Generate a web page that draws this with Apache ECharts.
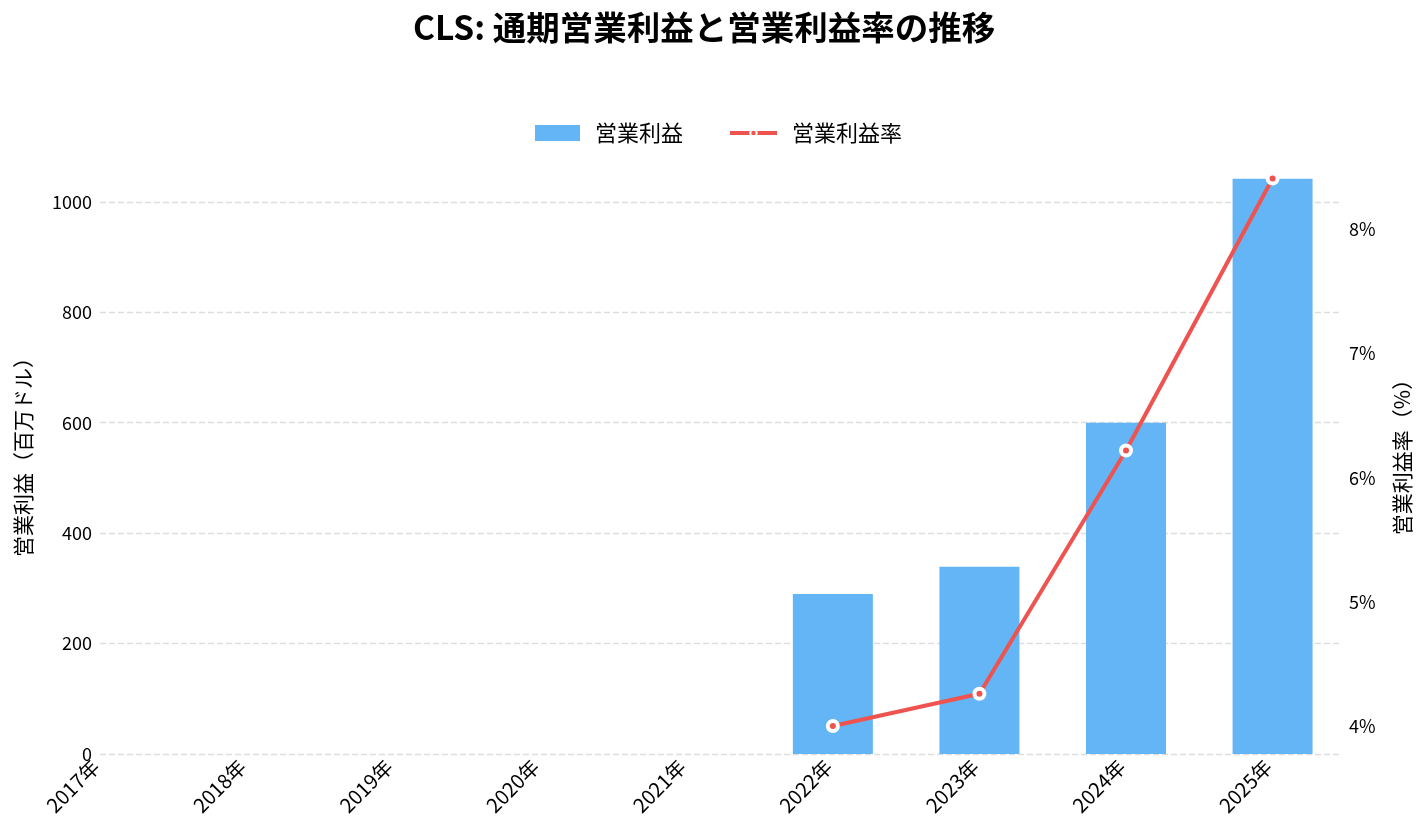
<!DOCTYPE html>
<html>
<head>
<meta charset="utf-8">
<script src="https://cdn.jsdelivr.net/npm/echarts@6/dist/echarts.min.js"></script>
<style>
  html, body { margin: 0; padding: 0; background: #fff; }
  #chart { width: 1425px; height: 838px; }
</style>
</head>
<body>
<div id="chart"></div>
<script>
// データ
var years = [2017, 2018, 2019, 2020, 2021, 2022, 2023, 2024, 2025];
var operatingProfit = [null, null, null, null, null, 290, 339, 600, 1042];   // 百万ドル
var operatingMargin = [null, null, null, null, null, 4.0, 4.26, 6.22, 8.41]; // %
var rightTicks = [4, 5, 6, 7, 8];

var FONT = '"Noto Sans CJK JP", "Noto Sans", sans-serif';

function pairs(values) {
    var out = [];
    for (var i = 0; i < years.length; i++) {
        if (values[i] !== null) out.push([years[i], values[i]]);
    }
    return out;
}

var legendText = { fontFamily: FONT, fontSize: 22, color: '#000', padding: [0, 0, 0, 10] };

var chart = echarts.init(document.getElementById('chart'));
var option = {
    textStyle: { fontFamily: FONT, color: '#000' },
    title: {
        text: 'CLS: 通期営業利益と営業利益率の推移',
        left: 408,
        top: 6,
        textStyle: { fontFamily: FONT, fontSize: 33.5, fontWeight: 'bold', color: '#000' }
    },
    legend: [
        {
            left: 535,
            top: 122,
            padding: 0,
            itemWidth: 45,
            itemHeight: 16,
            textStyle: legendText,
            data: [{ name: '営業利益', icon: 'rect' }]
        },
        {
            left: 728,
            top: 122,
            padding: 0,
            itemWidth: 47,
            itemHeight: 8,
            lineStyle: { width: 4 },
            textStyle: legendText,
            data: [{ name: '営業利益率' }]
        }
    ],
    grid: { left: 100, right: 85, top: 150, bottom: 84 },
    xAxis: {
        type: 'value',
        min: 2017,
        max: 2025.46,
        axisLine: { show: false },
        axisTick: { show: false },
        splitLine: { show: false },
        axisLabel: {
            customValues: years,
            rotate: 45,
            margin: 5,
            padding: [0, 6, 0, 0],
            fontSize: 20,
            fontFamily: FONT,
            color: '#000',
            formatter: function (v) { return v + '年'; }
        }
    },
    yAxis: [
        {
            type: 'value',
            min: 0,
            max: 1094,
            interval: 200,
            name: '営業利益（百万ドル）',
            nameLocation: 'middle',
            nameRotate: 90,
            nameGap: 66,
            nameTextStyle: { fontFamily: FONT, fontSize: 21, color: '#000' },
            axisLine: { show: false },
            axisTick: { show: false },
            axisLabel: {
                showMaxLabel: false,
                fontSize: 18,
                fontFamily: FONT,
                color: '#000',
                margin: 8,
                formatter: function (v) { return String(v); }
            },
            splitLine: {
                show: true,
                showMaxLine: false,
                lineStyle: { color: '#dddddd', type: [6, 3], width: 1.3 }
            }
        },
        {
            type: 'value',
            min: 3.775,
            max: 8.64,
            name: '営業利益率（%）',
            nameLocation: 'middle',
            nameRotate: 90,
            nameGap: 52,
            nameTextStyle: { fontFamily: FONT, fontSize: 21, color: '#000' },
            axisLine: { show: false },
            axisTick: { show: false },
            splitLine: { show: false },
            axisLabel: {
                customValues: rightTicks,
                fontSize: 18,
                fontFamily: FONT,
                color: '#000',
                margin: 9,
                formatter: function (v) { return v + '%'; }
            }
        }
    ],
    series: [
        {
            name: '営業利益',
            type: 'bar',
            yAxisIndex: 0,
            barWidth: 80,
            itemStyle: { color: '#64B5F6' },
            data: pairs(operatingProfit)
        },
        {
            name: '営業利益率',
            type: 'line',
            yAxisIndex: 1,
            symbol: 'circle',
            symbolSize: 10,
            lineStyle: { color: '#EF5350', width: 4 },
            itemStyle: { color: '#EF5350', borderColor: '#ffffff', borderWidth: 4 },
            data: pairs(operatingMargin)
        }
    ]
};
chart.setOption(option);
</script>
</body>
</html>
